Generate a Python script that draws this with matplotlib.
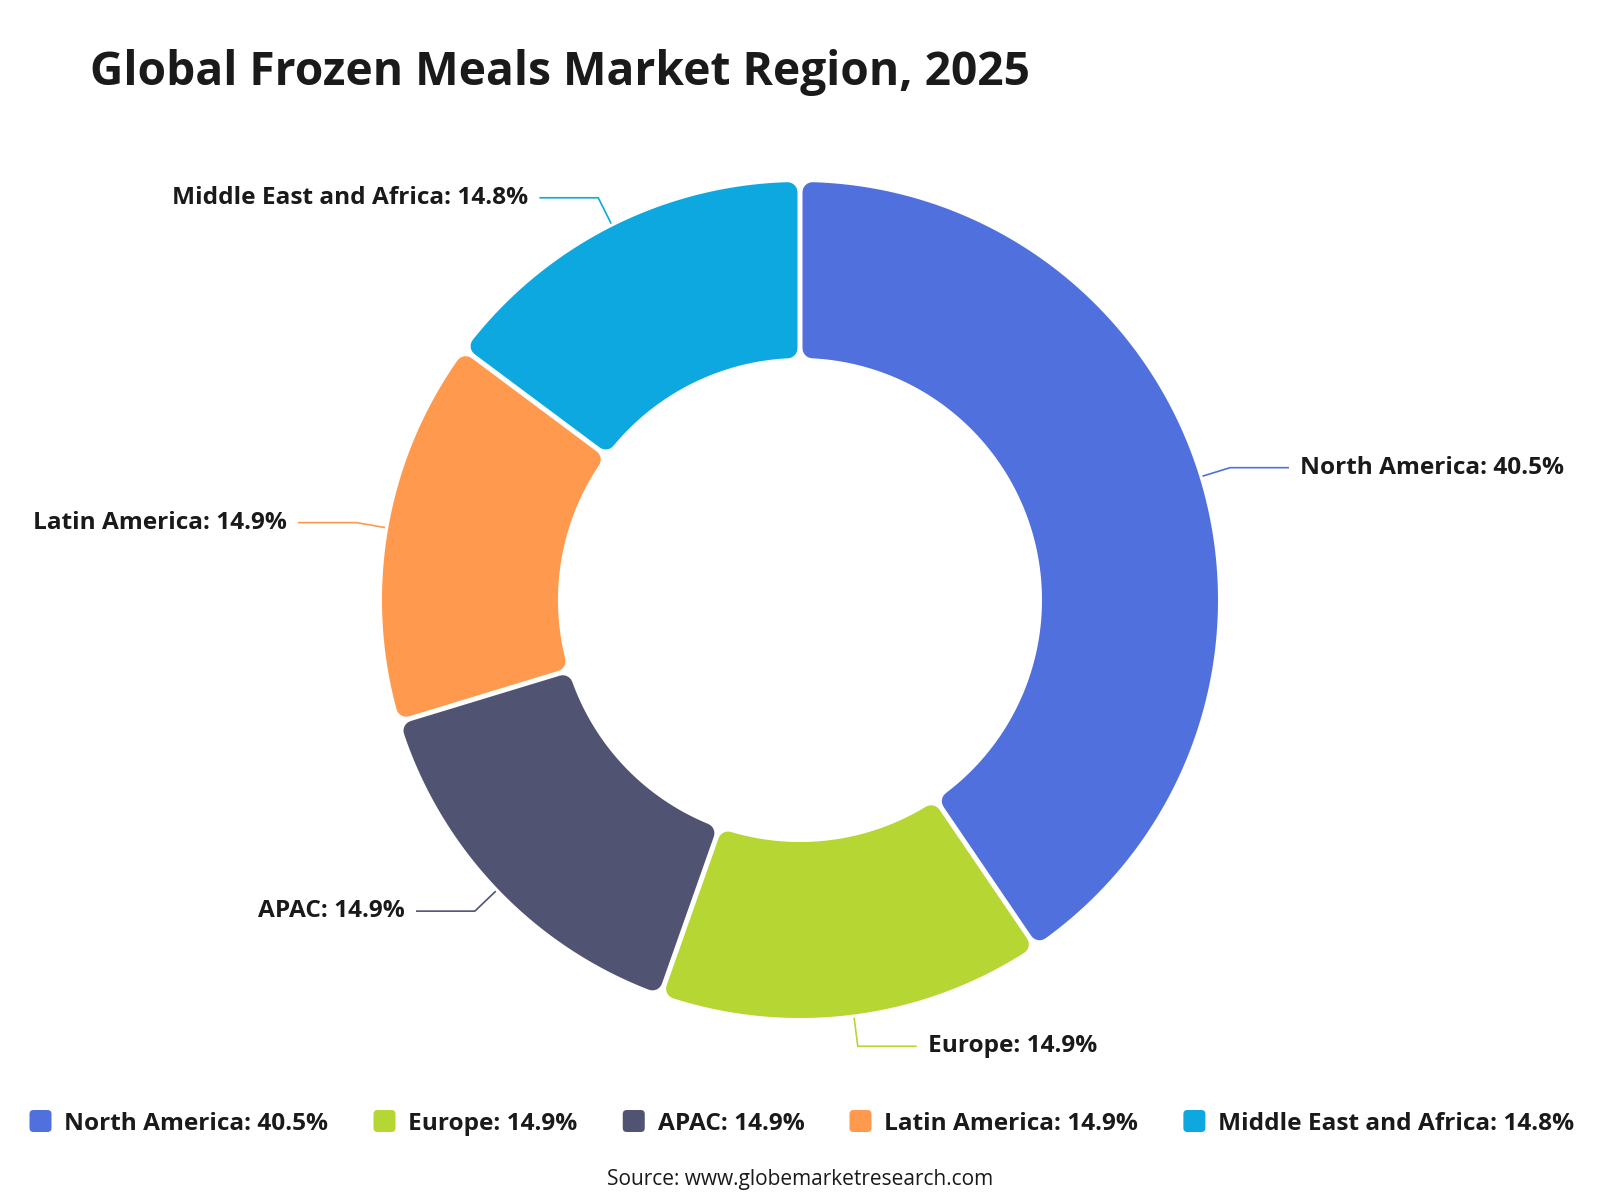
import numpy as np
import matplotlib
matplotlib.use("Agg")
import matplotlib.pyplot as plt
from matplotlib.patches import Polygon, FancyBboxPatch

plt.rcParams['font.family'] = ['Open Sans', 'DejaVu Sans']

regions = ["North America", "Europe", "APAC", "Latin America", "Middle East and Africa"]
shares = [40.5, 14.9, 14.9, 14.9, 14.8]
colors = ["#5070DD", "#B6D634", "#505372", "#FF994D", "#0CA8DF"]
title = "Global Frozen Meals Market Region, 2025"
source = "Source: www.globemarketresearch.com"

W, H = 1600, 1200
fig = plt.figure(figsize=(16, 12), dpi=100)
ax = fig.add_axes([0, 0, 1, 1])
ax.set_xlim(0, W)
ax.set_ylim(0, H)
ax.axis("off")

cx, cy = 800, 600
r_out, r_in = 418, 242
corner = 10
gap = 5
txt_color = "#1a1a1a"
label_size = 17.6


def ring_segment(a1, a2):
    # a1 > a2 in degrees (clockwise from a1 to a2), shrunk so a round stroke restores the size
    s = gap / 2 + corner
    ro = r_out - corner
    ri = r_in + corner
    o1 = np.radians(a1) - np.arcsin(s / ro)
    o2 = np.radians(a2) + np.arcsin(s / ro)
    i1 = np.radians(a1) - np.arcsin(s / ri)
    i2 = np.radians(a2) + np.arcsin(s / ri)
    t_out = np.linspace(o1, o2, 200)
    t_in = np.linspace(i2, i1, 200)
    xs = np.concatenate([cx + ro * np.cos(t_out), cx + ri * np.cos(t_in)])
    ys = np.concatenate([cy + ro * np.sin(t_out), cy + ri * np.sin(t_in)])
    return np.column_stack([xs, ys])


total = sum(shares)
start = 90.0
lw = 2 * corner * 72 / 100
for name, val, col in zip(regions, shares, colors):
    span = val / total * 360
    a1, a2 = start, start - span
    poly = Polygon(ring_segment(a1, a2), closed=True, facecolor=col, edgecolor=col,
                   linewidth=lw, joinstyle="round")
    ax.add_patch(poly)

    mid = np.radians((a1 + a2) / 2)
    p0 = (cx + (r_out + 4) * np.cos(mid), cy + (r_out + 4) * np.sin(mid))
    p1 = (cx + (r_out + 32) * np.cos(mid), cy + (r_out + 32) * np.sin(mid))
    side = 1 if np.cos(mid) >= 0 else -1
    p2 = (p1[0] + side * 58, p1[1])
    ax.plot([p0[0], p1[0], p2[0]], [p0[1], p1[1], p2[1]], color=col, lw=1.2,
            solid_joinstyle="miter")
    ax.text(p2[0] + side * 12, p2[1] + 3, f"{name}: {val}%",
            ha="left" if side > 0 else "right", va="center_baseline",
            fontsize=label_size, fontweight="bold", color=txt_color)
    start = a2

ax.text(90, H - 73, title, ha="left", va="center", fontsize=33.2, fontweight="bold",
        color=txt_color)

# legend laid out as one centred row
renderer = fig.canvas.get_renderer()
box = 22
box_gap = 13
item_gap = 45
legend_y = H - 1121
items = []
widths = []
for name, val in zip(regions, shares):
    t = ax.text(0, legend_y, f"{name}: {val}%", ha="left", va="center_baseline",
                fontsize=label_size, fontweight="bold", color=txt_color)
    bb = t.get_window_extent(renderer)
    items.append(t)
    widths.append(bb.width)
total_w = sum(box + box_gap + w for w in widths) + item_gap * (len(widths) - 1)
x = 802 - total_w / 2
for t, w, col in zip(items, widths, colors):
    ax.add_patch(FancyBboxPatch((x, legend_y - box / 2), box, box,
                                boxstyle="round,pad=0,rounding_size=4",
                                facecolor=col, edgecolor="none"))
    t.set_x(x + box + box_gap)
    x += box + box_gap + w + item_gap

ax.text(800, H - 1177, source, ha="center", va="center_baseline", fontsize=15,
        color=txt_color)

fig.savefig("out.png", dpi=100)
